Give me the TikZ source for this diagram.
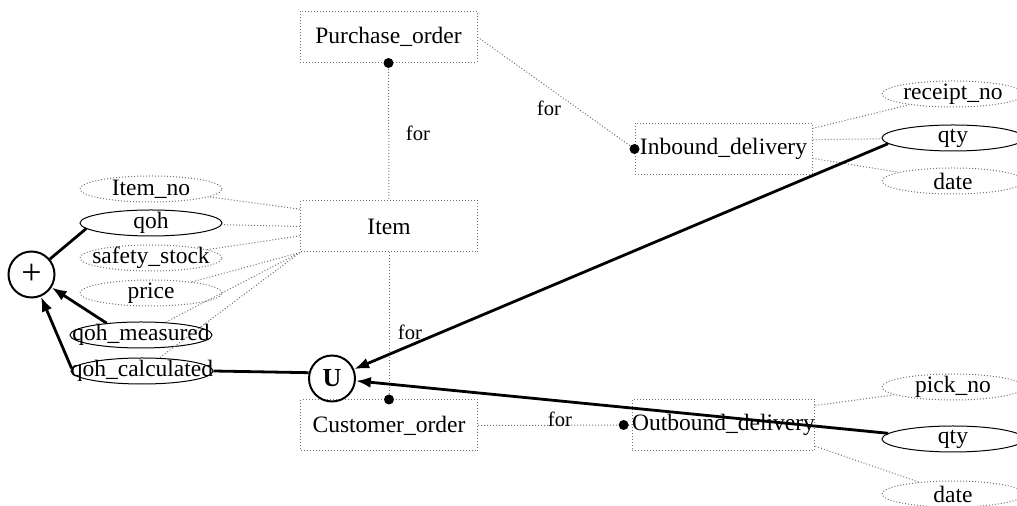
\documentclass[tikz,border=0pt]{standalone}
\usepackage{fontspec}
\setmainfont{Liberation Serif}
\usetikzlibrary{arrows.meta,shapes.geometric}

\begin{document}
\begin{tikzpicture}[x=0.5pt,y=-0.5pt,
  ent/.style={draw=black!55,densely dotted,line width=0.5pt,minimum width=88.5pt,minimum height=25.5pt,inner sep=0pt,font=\fontsize{11.75}{14}\selectfont},
  att/.style={ellipse,draw=black!55,densely dotted,line width=0.5pt,minimum width=71pt,minimum height=13pt,inner xsep=-12pt,inner ysep=-1.5pt,font=\fontsize{11.75}{14}\selectfont},
  datt/.style={att,draw=black,solid},
  op/.style={circle,draw,line width=1pt,minimum size=23pt,inner sep=0pt},
  link/.style={draw=black!55,densely dotted,line width=0.5pt},
  dlink/.style={-{Latex[length=7.5pt,width=5.5pt]},line width=1.4pt},
  lbl/.style={font=\fontsize{10.3}{12}\selectfont}]
\useasboundingbox (0,0) rectangle (1017,506);

% entities
\node[ent] (P) at (388.5,37) {Purchase\_order};
\node[ent] (I) at (389,226.5) {Item};
\node[ent] (C) at (389,425.5) {Customer\_order};
\node[ent] (IB) at (723.5,149) {Inbound\_delivery};
\node[ent] (OB) at (723.5,425) {Outbound\_delivery};

% attributes of Item
\node[att] (a1) at (151,189) {Item\_no};
\node[datt] (a2) at (151,223) {qoh};
\node[att] (a3) at (151,258) {safety\_stock};
\node[att] (a4) at (151,293) {price};
\node[datt] (a5) at (141,335) {qoh\_measured};
\node[datt] (a6) at (142,371) {qoh\_calculated};

% attributes of the deliveries
\node[att] (r1) at (953,94) {receipt\_no};
\node[datt] (r2) at (953,138) {qty};
\node[att] (r3) at (953,181) {date};
\node[att] (s1) at (953,387) {pick\_no};
\node[datt] (s2) at (953,439) {qty};
\node[att] (s3) at (953,494) {date};

% operators
\node[op,font=\fontsize{18}{18}\selectfont] (plus) at (31.5,274.5) {+};
\node[op,font=\fontsize{13}{14}\selectfont\bfseries] (U) at (332,378.5) {U};

% relationships
\path[link] (P.south) edge [] (I.north);
\path[link] (I.south) edge [] (C.north);
\path[link] (P.east) edge [] (IB.west);
\path[link] (C.east) edge [] (OB.west);
\fill (P.south) circle (2.5pt);
\fill (C.north) circle (2.5pt);
\fill (IB.west) circle (2.5pt);
\fill ([xshift=-4pt]OB.west) circle (2.5pt);

\node[lbl] (f1) at (418,133) {for};
\node[lbl] (f2) at (549,108) {for};
\node[lbl] (f3) at (410,332) {for};
\node[lbl] (f4) at (560,419) {for};

% attribute links
\path[link] (I.169) edge [] (a1);
\path[link] (I.180) edge [] (a2);
\path[link] (I.186) edge [] (a3);
\path[link] (I.south west) edge [] (a4);
\path[link] (I.south west) edge [] (a5);
\path[link] (I.south west) edge [] (a6);
\path[link] (IB.13) edge [] (r1);
\path[link] (IB.6) edge [] (r2);
\path[link] (IB.354) edge [] (r3);
\path[link] (OB.12) edge [] (s1);
\path[link] (OB.east) edge [] (s2);
\path[link] (OB.347) edge [] (s3);

% derivations
\path[line width=1.4pt] (a2.185) edge [] (plus);
\path[dlink] (a5.161) edge [] (plus);
\path[dlink] (a6.178) edge [] (plus);
\path[line width=1.4pt] (a6.east) edge [] (U.166);
\path[dlink] (r2.185) edge [] (U);
\path[dlink] (s2.175) edge [] (U);
\end{tikzpicture}
\end{document}
